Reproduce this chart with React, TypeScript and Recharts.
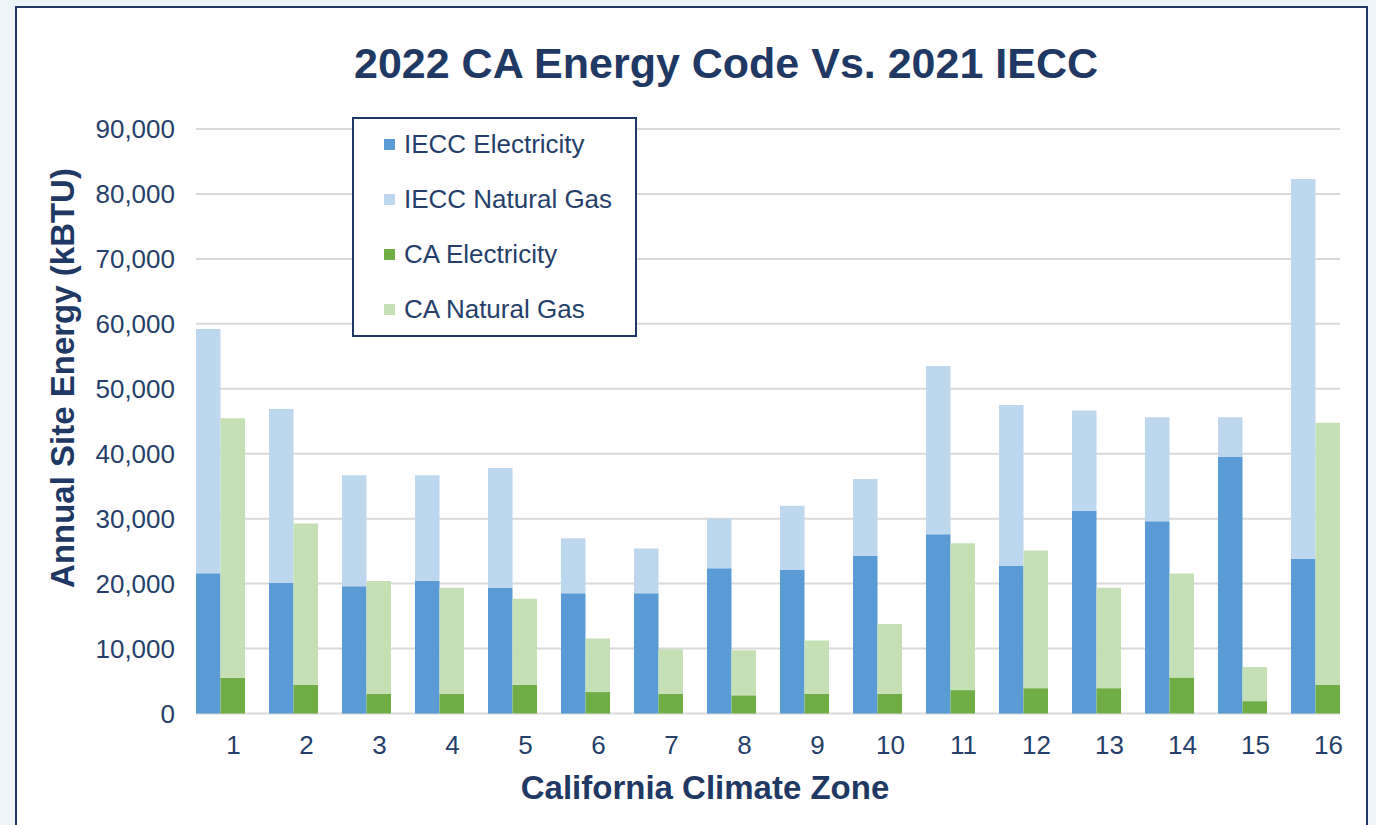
import React from 'react';
import { BarChart, Bar, XAxis, YAxis, CartesianGrid, Legend } from 'recharts';

const zones = ['1', '2', '3', '4', '5', '6', '7', '8', '9', '10', '11', '12', '13', '14', '15', '16'];
const seriesNames = ['IECC Electricity', 'IECC Natural Gas', 'CA Electricity', 'CA Natural Gas'];
const ieccElectricity = [21600, 20150, 19600, 20450, 19350, 18500, 18500, 22350, 22100, 24300, 27600, 22700, 31200, 29600, 39500, 23800];
const ieccNaturalGas = [37600, 26750, 17100, 16250, 18450, 8500, 6900, 7650, 9900, 11800, 25900, 24800, 15450, 16000, 6100, 58500];
const caElectricity = [5500, 4400, 3000, 3000, 4400, 3300, 3050, 2800, 3050, 3050, 3600, 3900, 3900, 5550, 1900, 4450];
const caNaturalGas = [39950, 24850, 17400, 16350, 13250, 8250, 6850, 6950, 8200, 10750, 22600, 21200, 15450, 16000, 5250, 40300];
const yTicks = [0, 10000, 20000, 30000, 40000, 50000, 60000, 70000, 80000, 90000];

const data = zones.map((z, i) => ({
  zone: z,
  ieccElec: ieccElectricity[i],
  ieccGas: ieccNaturalGas[i],
  caElec: caElectricity[i],
  caGas: caNaturalGas[i],
}));

const NAVY = '#1f3864';
const TEXT = '#263f6a';
const FONT = '"Liberation Sans", Arial, sans-serif';

const XTick = (props: any) => {
  const { x, y, payload } = props;
  return (
    <text x={x + 13} y={y} dy="0.71em" textAnchor="middle" fill={TEXT} fontSize={26} fontFamily={FONT}>
      {payload.value}
    </text>
  );
};

const YTick = (props: any) => {
  const { x, y, payload } = props;
  return (
    <text x={x} y={y} dy="0.355em" textAnchor="end" fill={TEXT} fontSize={26} fontFamily={FONT}>
      {Number(payload.value).toLocaleString('en-US')}
    </text>
  );
};

const gridLine = (props: any) => {
  const { x1, x2, y1, y2, index } = props;
  return (
    <line key={`g-${index}`} x1={x1 + 12} x2={x2 - 12} y1={y1} y2={y2} stroke="#d9d9d9" strokeWidth={2} />
  );
};

const renderLegend = (props: any) => {
  const items = [...(props.payload || [])].sort(
    (a: any, b: any) => seriesNames.indexOf(a.value) - seriesNames.indexOf(b.value)
  );
  return (
    <div
      style={{
        width: 281,
        height: 216,
        border: `2px solid ${NAVY}`,
        background: '#ffffff',
        boxSizing: 'content-box',
        position: 'relative',
        fontFamily: FONT,
      }}
    >
      {items.map((entry: any, i: number) => (
        <div
          key={entry.value}
          style={{
            position: 'absolute',
            left: 30,
            top: 26 + i * 55 - 17,
            height: 32,
            display: 'flex',
            alignItems: 'center',
          }}
        >
          <div style={{ width: 11, height: 11, background: entry.color, marginRight: 9 }} />
          <span style={{ fontSize: 26, color: TEXT, whiteSpace: 'nowrap' }}>{entry.value}</span>
        </div>
      ))}
    </div>
  );
};

export default function App() {
  return (
    <div style={{ position: 'absolute', left: 0, top: 0, width: 1376, height: 825, background: '#eef5f8', overflow: 'hidden' }}>
      <div
        style={{
          position: 'absolute',
          left: 15,
          top: 6,
          width: 1349,
          height: 840,
          border: `2px solid ${NAVY}`,
          background: '#ffffff',
        }}
      />
      <div
        style={{
          position: 'absolute',
          left: 226,
          width: 1000,
          top: 39,
          textAlign: 'center',
          fontFamily: FONT,
          fontWeight: 'bold',
          fontSize: 43,
          lineHeight: '48px',
          color: NAVY,
        }}
      >
        2022 CA Energy Code Vs. 2021 IECC
      </div>
      <div style={{ position: 'absolute', left: 0, top: 0 }}>
        <BarChart
          width={1376}
          height={825}
          data={data}
          margin={{ top: 129, right: 24, bottom: 81.5, left: 84 }}
          barGap={0}
          barSize={24.5}
        >
          <CartesianGrid vertical={false} horizontal={gridLine} />
          <XAxis
            dataKey="zone"
            height={30}
            axisLine={false}
            tickLine={false}
            tickMargin={16}
            tick={<XTick />}
            interval={0}
            label={() => (
              <text x={705} y={787} textAnchor="middle" dominantBaseline="central" fill={NAVY} fontSize={33} fontWeight="bold" fontFamily={FONT}>
                California Climate Zone
              </text>
            )}
          />
          <YAxis
            width={100}
            domain={[0, 90000]}
            ticks={yTicks}
            axisLine={false}
            tickLine={false}
            tickMargin={3}
            tick={<YTick />}
            label={() => (
              <text x={62} y={378} transform="rotate(-90 62 378)" textAnchor="middle" dominantBaseline="central" fill={NAVY} fontSize={33} fontWeight="bold" fontFamily={FONT}>
                Annual Site Energy (kBTU)
              </text>
            )}
          />
          <Legend
            layout="vertical"
            align="center"
            verticalAlign="middle"
            content={renderLegend}
            wrapperStyle={{ position: 'absolute', left: 352, top: 117, width: 285, height: 220 }}
          />
          <Bar dataKey="ieccElec" name={seriesNames[0]} stackId="iecc" fill="#5b9bd5" isAnimationActive={false} />
          <Bar dataKey="ieccGas" name={seriesNames[1]} stackId="iecc" fill="#bdd7ee" isAnimationActive={false} />
          <Bar dataKey="caElec" name={seriesNames[2]} stackId="ca" fill="#70ad47" isAnimationActive={false} />
          <Bar dataKey="caGas" name={seriesNames[3]} stackId="ca" fill="#c5e0b4" isAnimationActive={false} />
        </BarChart>
      </div>
    </div>
  );
}
